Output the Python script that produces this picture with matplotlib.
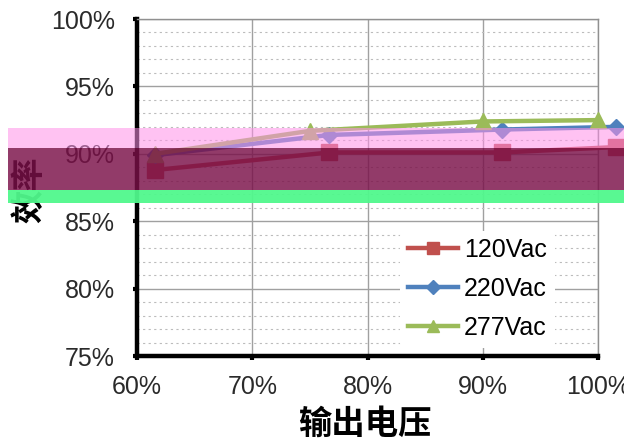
import matplotlib
matplotlib.use("Agg")
import matplotlib.pyplot as plt
from matplotlib.patches import Rectangle
from matplotlib.ticker import MultipleLocator, FuncFormatter

plt.rcParams['font.family'] = ['Liberation Sans', 'Noto Sans CJK SC', 'DejaVu Sans']

# data (output voltage ratio, efficiency)
x_120 = [0.616, 0.767, 0.917, 1.016]
eff_120 = [0.888, 0.901, 0.901, 0.905]
x_220 = [0.616, 0.767, 0.917, 1.016]
eff_220 = [0.899, 0.914, 0.918, 0.920]
x_277 = [0.616, 0.750, 0.900, 1.000]
eff_277 = [0.900, 0.917, 0.924, 0.925]
series_labels = ['120Vac', '220Vac', '277Vac']
colors = ['#C0504D', '#4F81BD', '#9BBB59']
markers = ['s', 'D', '^']
x_label = '输出电压'
y_label = '效率'

fig = plt.figure(figsize=(6.24, 4.44), dpi=100)
ax = fig.add_axes([137/624, 1-356/444, (598-137)/624, (356-19)/444])

ax.set_xlim(0.6, 1.0)
ax.set_ylim(0.75, 1.0)
ax.xaxis.set_major_locator(MultipleLocator(0.1))
ax.yaxis.set_major_locator(MultipleLocator(0.05))
ax.yaxis.set_minor_locator(MultipleLocator(0.01))
pct = FuncFormatter(lambda v, p: f"{v*100:.0f}%")
ax.xaxis.set_major_formatter(pct)
ax.yaxis.set_major_formatter(pct)

ax.grid(which='major', color='#a0a0a0', linewidth=1.0, linestyle='-')
ax.grid(which='minor', axis='y', color='#bcbcbc', linewidth=0.8, linestyle=(0, (2, 3)))

for s in ['top', 'right']:
    ax.spines[s].set_color('#909090')
    ax.spines[s].set_linewidth(1.0)
for s in ['left', 'bottom']:
    ax.spines[s].set_color('black')
    ax.spines[s].set_linewidth(3.2)

ax.tick_params(axis='both', which='major', labelsize=18, color='black', width=3, length=3,
               labelcolor='#2a2a2a')
ax.tick_params(axis='y', which='minor', length=0)
ax.tick_params(axis='x', pad=11)
ax.tick_params(axis='y', pad=13)

xs = [x_120, x_220, x_277]
ys = [eff_120, eff_220, eff_277]
msz = [11, 8, 11]
for xv, yv, lab, c, m, ms in zip(xs, ys, series_labels, colors, markers, msz):
    ax.plot(xv, yv, color=c, linewidth=3.2, marker=m, markersize=ms, label=lab, clip_on=False, zorder=3)

leg = ax.legend(loc='lower right', bbox_to_anchor=(0.933, -0.012), frameon=True, fontsize=18,
                handlelength=2.0, handletextpad=0.25, labelspacing=0.6, borderpad=0.3,
                markerscale=0.85)
leg.get_frame().set_edgecolor('none')
leg.get_frame().set_facecolor('white')
leg.get_frame().set_alpha(1.0)

fig.text(365/624, 1-424/444, x_label, ha='center', va='center', fontsize=24, fontweight='bold',
         family=['Noto Sans CJK SC', 'DejaVu Sans'])
fig.text(30/624, 1-190/444, y_label, ha='center', va='center', rotation=90, fontsize=24,
         fontweight='bold', family=['Noto Sans CJK SC', 'DejaVu Sans'])

# coloured overlay bands present in the reference image
def band(y0, y1, color, alpha):
    fig.add_artist(Rectangle((8/624, 1-y1/444), 1-8/624, (y1-y0)/444,
                             transform=fig.transFigure, facecolor=color, edgecolor='none',
                             alpha=alpha, zorder=10))

band(128, 148, '#FF90E8', 0.55)
band(148, 190, '#7A1048', 0.82)
band(190, 203, '#50F88C', 0.95)

fig.savefig('out.png', dpi=100)
